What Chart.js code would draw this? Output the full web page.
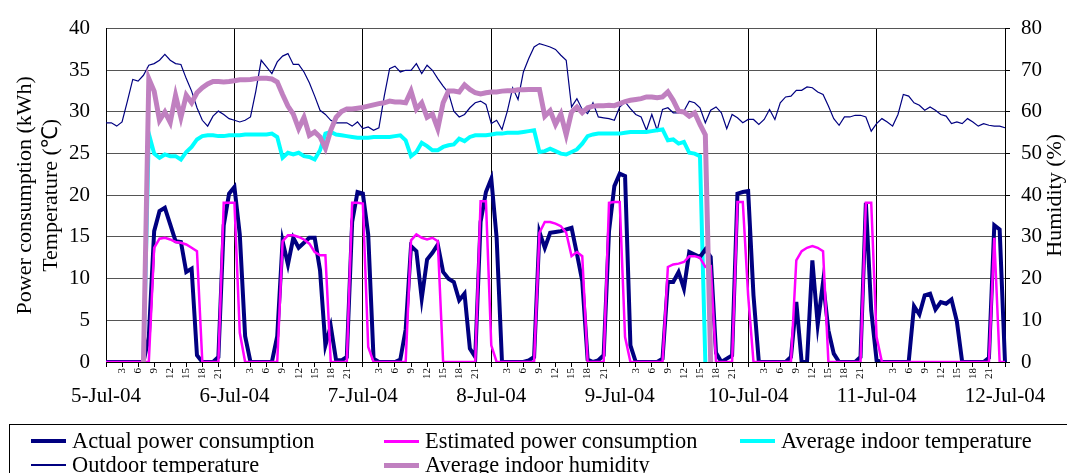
<!DOCTYPE html>
<html>
<head>
<meta charset="utf-8">
<script src="https://cdn.jsdelivr.net/npm/chart.js@4.4.0/dist/chart.umd.min.js"></script>
<style>
  html, body { margin: 0; padding: 0; background: #fff; }
  #wrap { position: relative; width: 1067px; height: 473px; overflow: hidden; }
  #legend { position: absolute; left: 9px; top: 424px; width: 1070px; height: 60px; border: 1px solid #000;
            box-sizing: border-box; font-family: "Liberation Serif", "Times New Roman", serif; font-size: 22.4px; color: #000; }
  .item { position: absolute; display: flex; align-items: center; height: 24px; white-space: nowrap; }
  .swatch { display: inline-block; width: 35px; margin-right: 6px; }
</style>
</head>
<body>
<div id="wrap">
  <canvas id="myChart" width="1067" height="473"></canvas>
  <div id="legend"></div>
</div>
<script>
// days on the axis, one category per hour from 5-Jul 0:00 to 12-Jul 0:00
var days = ['5-Jul-04', '6-Jul-04', '7-Jul-04', '8-Jul-04', '9-Jul-04', '10-Jul-04', '11-Jul-04', '12-Jul-04'];
var hourTicks = [3, 6, 9, 12, 15, 18, 21];

var categories = [];
for (var d = 0; d < 7; d++) {
    for (var h = 0; h < 24; h++) categories.push(days[d] + ' ' + h + ':00');
}
categories.push(days[7] + ' 0:00');

// kWh
var actualPower = [
    0,0,0,0,0,0,0,0,3,15.7,18.1,18.5,16.5,14.5,14.4,10.8,11.2,0.8,0,0,0,0.6,16.4,20.2,
    21,15.3,3.1,0,0,0,0,0,3.1,14.5,11.7,14.9,13.7,14.3,14.9,14.9,11,2,4.3,0.2,0.2,0.6,16.8,20.4,
    20.2,15.3,0.4,0,0,0,0,0.3,3.9,13.9,13.3,7.6,12.3,13.1,14.1,10.8,10,9.6,7.4,8.2,1.6,0.6,16.8,20.4,
    22,14.9,0,0,0,0,0,0.2,0.6,15.6,13.7,15.5,15.6,15.7,15.9,16.1,13,9.7,0.3,0,0.2,0.8,15.7,21.1,
    22.6,22.3,2,0,0,0,0,0,0.4,9.6,9.6,10.8,8.8,13.2,12.9,12.6,13.5,12.6,1.1,0,0.4,0.8,20.2,20.4,
    20.5,8,0,0,0,0,0,0,0.6,7.2,0,0,12.2,4.5,9.6,3.8,1,0,0,0,0,0.6,19.1,6.2,
    0.2,0,0,0,0,0,0,6.7,5.7,8,8.2,6.3,7.2,7,7.5,4.9,0,0,0,0,0,0.5,16.4,15.9,
    0
];

var estimatedPower = [
    0,0,0,0,0,0,0,0,0,13.7,14.8,14.9,14.7,14.4,14.3,14.1,13.7,13.3,0,0,0,0,19.1,19.1,
    19.1,3.5,0,0,0,0,0,0,0,14.5,15.2,15.2,15.0,14.7,14.2,13.2,12.8,12.8,0,0,0,0,19.1,19.1,
    19,1.8,0,0,0,0,0,0,0,14.6,15.3,14.9,14.7,14.9,14.5,0,0,0,0,0,0,0,19.3,19.3,
    2,0,0,0,0,0,0,0,0,15.5,16.8,16.8,16.6,16.3,15.5,12.7,13.2,12.7,0,0,0,0,19.1,19.2,
    19.2,3,0,0,0,0,0,0,0,11.4,11.7,11.8,12,12.7,12.7,12.5,11.4,11.5,0,0,0,0,19.2,19.2,
    8,0,0,0,0,0,0,0,0,12.2,13.3,13.7,13.9,13.7,13.3,0,0,0,0,0,0,0,19.1,19.1,
    3,0,0,0,0,0,0,0,0,0,0,0,0,0,0,0,0,0,0,0,0,0,14.9,0,
    0
];

// °C
var indoorTemp = [
    null,null,null,null,null,null,null,0,
    27.4,25.0,24.5,24.9,24.7,24.7,24.3,25.2,25.8,26.7,27.1,27.2,27.2,27.1,27.1,27.2,
    27.2,27.2,27.3,27.3,27.3,27.3,27.3,27.4,27.0,24.5,25.1,24.9,25.1,24.7,24.6,24.3,25.4,27.4,27.6,27.3,27.2,27.1,27.0,26.9,
    26.9,26.9,27.0,27.0,27.0,27.0,27.1,27.2,26.6,24.7,25.2,26.3,25.9,25.4,25.4,25.8,26.0,26.1,26.8,26.5,27.0,27.2,27.2,27.2,
    27.3,27.4,27.4,27.5,27.5,27.5,27.6,27.7,27.8,25.2,25.3,25.6,25.3,25.0,24.9,25.2,25.5,26.2,27.1,27.3,27.4,27.4,27.4,27.4,
    27.4,27.5,27.6,27.6,27.6,27.6,27.7,27.8,27.9,26.6,26.7,26.2,26.4,25.1,25.0,24.7,0,
    null,null,null,null,null,null,null,null,
    null,null,null,null,null,null,null,null,
    null,null,null,null,null,null,null,null,
    null,null,null,null,null,null,null,null,
    null,null,null,null,null,null,null,null,
    null,null,null,null,null,null,null,null,
    null,null,null,null,null,null,null,null
];

var outdoorTemp = [
    28.7,28.7,28.3,28.8,31.3,33.9,33.7,34.4,35.6,35.8,36.2,36.9,36.2,35.8,35.7,34.0,32.5,30.5,29.0,28.3,29.5,30.1,29.7,29.2,
    29.0,28.8,29.0,29.4,32.5,36.2,35.4,34.6,36.0,36.7,37.0,35.7,35.7,34.8,33.5,31.9,30.2,29.7,29.0,28.7,28.7,28.7,28.3,28.8,
    28.0,28.2,27.8,28.1,31.9,35.2,35.5,34.8,35.0,35.0,35.8,34.6,35.6,35.0,34.0,33.1,32.3,30.1,29.4,29.7,30.5,31.1,31.3,30.9,
    28.6,29.0,27.9,30.1,32.9,31.5,34.8,36.4,37.8,38.2,38.0,37.8,37.5,36.8,36.2,30.6,31.6,30.3,29.8,31.1,29.4,29.3,29.2,29.0,
    30.6,31.2,30.4,29.7,29.4,27.8,29.7,27.8,30.3,30.5,29.9,29.9,30.1,31.3,31.1,30.5,28.7,30.2,30.6,29.9,28.0,29.7,29.3,28.7,
    29.1,29.1,28.5,29.1,30.3,29.1,31.1,31.8,31.9,32.6,32.6,33.0,32.9,32.4,32.1,30.7,29.2,28.4,29.4,29.4,29.6,29.6,29.4,27.7,
    28.6,29.2,28.8,28.3,29.7,32.1,31.9,31.1,30.8,30.2,30.6,30.2,29.7,29.5,28.6,28.8,28.6,29.2,28.8,28.3,28.6,28.4,28.3,28.3,
    28.1
];

// %
var indoorHumidity = [
    null,null,null,null,null,null,null,0,
    68,65,58,60,57.5,64,58.7,64,62.2,64.6,65.8,66.7,67.3,67.3,67.2,67.3,
    67.5,67.7,67.7,67.8,68,68.1,68.1,67.9,67.2,64.2,61.4,59.5,56,58.7,54.4,55.2,54,51.3,55.6,58.7,60.1,60.7,60.7,60.9,
    61.1,61.4,61.7,62,62.2,62.6,62.4,62.4,62.2,65,60.7,62.2,58.7,59.5,56,62.2,65,65,64.8,66.5,65.4,64.6,64.3,64.6,
    64.8,64.8,65,65.1,65.1,65.3,65.3,65.4,65.4,65.4,59,60.3,57,59.5,54.5,60,61.2,59.8,61,61.4,61.5,61.5,61.6,61.5,
    62,62.5,62.8,63,63.2,63.6,63.6,63.4,63.6,64.8,62.8,60.2,60,59,59.8,57,54.5,0,
    null,null,null,null,null,null,null,
    null,null,null,null,null,null,null,null,
    null,null,null,null,null,null,null,null,
    null,null,null,null,null,null,null,null,
    null,null,null,null,null,null,null,null,
    null,null,null,null,null,null,null,null,
    null,null,null,null,null,null,null,null
];

var serif = '"Liberation Serif", "Times New Roman", serif';
Chart.defaults.font.family = serif;
Chart.defaults.color = '#000';

var datasets = [
    { label: 'Actual power consumption', data: actualPower, borderColor: '#000080', borderWidth: 4, order: 3, yAxisID: 'y' },
    { label: 'Estimated power consumption', data: estimatedPower, borderColor: '#ff00ff', borderWidth: 2.5, order: 2, yAxisID: 'y' },
    { label: 'Average indoor temperature', data: indoorTemp, borderColor: '#00ffff', borderWidth: 4, order: 4, yAxisID: 'y' },
    { label: 'Outdoor temperature', data: outdoorTemp, borderColor: '#000080', borderWidth: 1.2, order: 5, yAxisID: 'y' },
    { label: 'Average indoor humidity', data: indoorHumidity, borderColor: 'rgb(192,128,192)', borderWidth: 5, order: 1, yAxisID: 'y1' }
];
datasets.forEach(function (ds) {
    ds.pointRadius = 0;
    ds.tension = 0;
    ds.fill = false;
    ds.backgroundColor = ds.borderColor;
});

// right axis title reads bottom-to-top, so it is drawn here
var rightTitle = {
    id: 'rightTitle',
    afterDraw: function (chart) {
        var ctx = chart.ctx, area = chart.chartArea;
        ctx.save();
        ctx.translate(chart.scales.y1.right - 12, (area.top + area.bottom) / 2);
        ctx.rotate(-Math.PI / 2);
        ctx.font = '22px ' + serif;
        ctx.fillStyle = '#000';
        ctx.textAlign = 'center';
        ctx.textBaseline = 'middle';
        ctx.fillText('Humidity (%)', 0, 0);
        ctx.restore();
    }
};

var ctx = document.getElementById('myChart').getContext('2d');
var myChart = new Chart(ctx, {
    type: 'line',
    data: { labels: categories, datasets: datasets },
    options: {
        responsive: false,
        animation: false,
        layout: { padding: { top: 21, left: 0, right: 0, bottom: 61 } },
        plugins: { legend: { display: false }, tooltip: { enabled: false } },
        scales: {
            x: {
                type: 'category',
                position: 'bottom',
                afterFit: function (scale) { scale.height = 20; },
                grid: {
                    color: function (c) { return c.index % 24 === 0 ? '#000' : 'rgba(0,0,0,0)'; },
                    tickColor: function (c) { return c.index % 3 === 0 ? '#000' : 'rgba(0,0,0,0)'; },
                    tickLength: 5,
                    lineWidth: 1
                },
                border: { color: '#000', width: 1 },
                ticks: {
                    autoSkip: false,
                    minRotation: 90,
                    maxRotation: 90,
                    padding: 1,
                    font: { size: 11 },
                    callback: function (v, i) {
                        var h = i % 24;
                        return hourTicks.indexOf(h) >= 0 ? String(h) : '';
                    }
                }
            },
            xDay: {
                type: 'category',
                position: 'bottom',
                weight: 1,
                afterFit: function (scale) { scale.height = 30; },
                grid: { display: false, drawTicks: false },
                border: { display: false },
                ticks: {
                    autoSkip: false,
                    maxRotation: 0,
                    padding: 2,
                    font: { size: 21 },
                    callback: function (v, i) { return i % 24 === 0 ? days[i / 24] : ''; }
                }
            },
            y: {
                position: 'left',
                min: 0,
                max: 40,
                afterFit: function (scale) { scale.width = 106; },
                grid: { color: '#555', drawTicks: false },
                border: { color: '#000' },
                ticks: { stepSize: 5, padding: 16, font: { size: 21 } },
                title: {
                    display: true,
                    text: ['Power consumption (kWh)', 'Temperature (\u2103)'],
                    font: { size: 22 },
                    padding: { top: 12, bottom: 0 }
                }
            },
            y1: {
                position: 'right',
                min: 0,
                max: 80,
                afterFit: function (scale) { scale.width = 62; },
                grid: { drawOnChartArea: false, color: '#000', tickLength: 5 },
                border: { color: '#000' },
                ticks: { stepSize: 10, padding: 11, font: { size: 21 } }
            }
        }
    },
    plugins: [rightTitle]
});

// legend laid out in two rows like the original
var legendSpots = [
    { left: 21, top: 4, h: 4 },
    { left: 374, top: 4, h: 3 },
    { left: 730, top: 4, h: 4 },
    { left: 21, top: 28, h: 1.5 },
    { left: 374, top: 28, h: 5 }
];
var legendBox = document.getElementById('legend');
datasets.forEach(function (ds, i) {
    var spot = legendSpots[i];
    var item = document.createElement('div');
    item.className = 'item';
    item.style.left = spot.left + 'px';
    item.style.top = spot.top + 'px';
    var sw = document.createElement('span');
    sw.className = 'swatch';
    sw.style.height = spot.h + 'px';
    sw.style.background = ds.borderColor;
    var txt = document.createElement('span');
    txt.textContent = ds.label;
    item.appendChild(sw);
    item.appendChild(txt);
    legendBox.appendChild(item);
});
</script>
</body>
</html>
